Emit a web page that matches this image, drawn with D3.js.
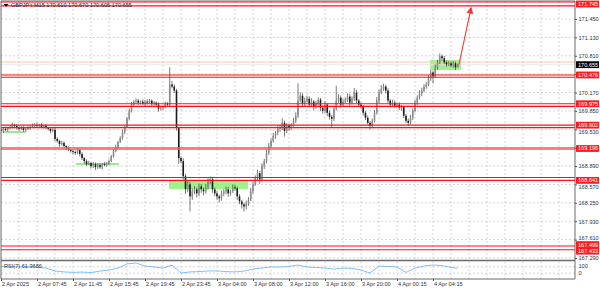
<!DOCTYPE html>
<html>
<head>
<meta charset="utf-8">
<script src="https://cdn.jsdelivr.net/npm/d3@7"></script>
<style>
  body { margin: 0; background: #fff; }
  svg text { font-family: 'Liberation Sans', Arial, sans-serif; font-size: 5.6px; }
</style>
</head>
<body>
<svg id="chart"></svg>
<script>
// ---- data ----
const symbol = 'GBPJPY,M15';
const firstOpen = 169.520;

// M15 closes, one per bar (open = previous close)
const closes = [
  169.502,169.537,169.520,169.555, 169.572,169.607,169.590,169.555,
  169.537,169.555,169.520,169.537, 169.555,169.572,169.590,169.607,
  169.590,169.607,169.572,169.590, 169.555,169.537,169.502,169.520,
  169.362,169.327,169.274,169.292, 169.239,169.204,169.169,169.151,
  169.134,169.116,169.169,169.099, 169.029,168.976,168.923,168.941,
  168.889,168.923,168.871,168.906, 168.871,168.923,168.906,168.941,
  168.976,169.064,169.151,169.222, 169.309,169.379,169.485,169.572,
  169.713,169.853,169.959,170.011, 170.029,169.994,170.011,169.976,
  170.011,169.994,170.029,169.976, 169.994,169.959,169.888,169.906,
  169.923,169.976,169.959,170.309, 170.274,170.204,169.555,169.029,
  168.976,168.713,168.485,168.573, 168.362,168.450,168.485,168.415,
  168.537,168.485,168.450,168.520, 168.625,168.660,168.485,168.415,
  168.362,168.327,168.415,168.450, 168.485,168.415,168.450,168.520,
  168.502,168.362,168.275,168.222, 168.187,168.239,168.309,168.450,
  168.573,168.678,168.765,168.660, 168.889,168.976,169.116,169.239,
  169.327,169.415,169.467,169.537, 169.555,169.643,169.502,169.590,
  169.555,169.607,169.678,169.766, 170.029,170.116,169.976,170.029,
  170.064,169.959,170.011,169.923, 169.976,170.046,169.906,169.853,
  169.959,169.818,169.748,169.713, 169.888,170.029,170.081,169.959,
  170.011,170.046,170.099,169.994, 170.064,170.169,170.029,169.959,
  169.923,169.818,169.730,169.643, 169.590,169.678,169.818,170.029,
  170.169,170.239,170.274,170.204, 170.029,169.959,169.994,169.941,
  169.959,169.906,169.923,169.766, 169.678,169.643,169.730,169.853,
  169.994,170.081,170.151,170.204, 170.274,170.309,170.415,170.520,
  170.450,170.608,170.695,170.801, 170.766,170.695,170.660,170.678,
  170.643,170.678,170.610,170.655
];

// wick lengths beyond the body, in pips (0.01)
const wickUp = [
  3,2,4,2, 3,4,2,3, 2,3,3,2, 3,2,4,3, 4,2,3,2, 3,2,2,3, 4,3,2,4, 3,2,3,2,
  2,3,4,2, 3,2,3,4, 2,4,3,3, 3,2,4,2, 3,2,3,4, 2,3,4,3, 3,4,5,3, 4,3,2,4,
  3,4,3,2, 3,2,4,3, 2,4,3,30, 6,4,3,2, 3,5,4,6, 4,5,6,3, 5,4,3,6, 6,5,4,3,
  4,3,5,4, 5,4,3,5, 4,3,4,3, 3,5,4,6, 4,5,6,4, 5,4,6,5, 4,5,3,6, 5,8,4,5,
  4,3,5,6, 30,6,4,5, 5,4,6,3, 5,4,3,4, 6,3,4,3, 5,26,6,4, 5,4,6,5, 4,8,5,3,
  4,3,3,4, 3,4,5,6, 5,6,5,3, 4,3,5,4, 3,4,3,2, 3,4,5,4, 5,4,6,5, 4,5,6,4,
  3,5,4,5, 3,4,3,4, 3,4,3,1.5
];
const wickDown = [
  3,4,2,3, 2,3,4,3, 3,2,3,4, 2,3,2,3, 3,4,2,3, 2,3,4,2, 4,3,5,3, 3,4,2,3,
  4,3,2,4, 3,4,3,2, 4,3,5,3, 3,4,2,3, 3,2,3,2, 3,2,3,4, 2,3,3,4, 3,4,3,2,
  4,3,2,4, 3,4,5,3, 4,3,2,3, 3,4,5,10, 4,6,8,5, 26,6,5,7, 5,6,7,4, 4,5,6,5,
  6,7,4,5, 5,6,4,3, 4,6,5,7, 9,5,4,3, 4,3,5,8, 4,5,4,3, 4,3,5,4, 5,4,10,4,
  5,4,3,4, 4,3,6,4, 3,5,4,6, 4,3,6,5, 4,6,5,16, 4,3,4,5, 4,3,4,5, 3,4,5,4,
  4,5,4,3, 6,4,3,3, 4,3,4,5, 4,5,3,4, 3,4,5,4, 4,6,3,4, 3,4,3,4, 3,4,3,4,
  12,3,4,3, 4,3,4,3, 3,4,5,0.5
];

// RSI(7), read every 4 bars, last value at the final bar
const rsiValues = [
  72,72,69,72,68,62,44,38,35,37, 34,43,50,62,88,94,75,69,62,81,
  31,38,40,44,44,40,38,43,56,62, 69,69,72,81,69,66,62,56,62,60,
  50,31,75,72,69,35,62,75,81,78,66, 61.3686
];
const rsiLevels = [70, 30];
const rsiAxisLabels = [100, 0];

// time labels, one every 16 bars
const timeLabels = [
  '2 Apr 2025','2 Apr 07:45','2 Apr 11:45','2 Apr 15:45','2 Apr 19:45','2 Apr 23:45',
  '3 Apr 04:00','3 Apr 08:00','3 Apr 12:00','3 Apr 16:00','3 Apr 20:00','4 Apr 00:15','4 Apr 04:15'
];
const priceTicks = [171.450,171.130,170.810,170.490,170.170,169.850,169.530,169.210,
                    168.890,168.570,168.250,167.930,167.610,167.290];

// support / resistance levels (pairs of lines), one wide band, and the tagged prices
const levelPairs = [[171.745,171.678],[170.476,170.435],[169.975,169.930],
                    [169.602,169.560],[168.690,168.641],[167.499,167.433]];
const bandLevels = [169.196];
const taggedLevels = [171.745,170.476,169.975,169.602,169.196,168.641,167.499,167.433];
const askPrice = 170.700;

// annotations in bar / price units
const greenZones = [[190.7,204.5,170.736,170.562],[74.7,109.8,168.630,168.490]];
const greenMarks = [[33.3,52.4,168.926],[1,10.7,169.483]];
const targetArrow = [203.5,170.650,208.9,171.640];

// ---- build ----
const W = 600, H = 289;
const svg = d3.select('#chart').attr('width', W).attr('height', H);
svg.append('rect').attr('width', W).attr('height', H).attr('fill', '#fff');

const bars = closes.map((c, i) => {
  const o = i === 0 ? firstOpen : closes[i - 1];
  return { i, o, c,
    h: Math.max(o, c) + wickUp[i] * 0.01,
    l: Math.min(o, c) - wickDown[i] * 0.01 };
});
const last = bars[bars.length - 1];

const x = d3.scaleLinear().domain([0, 255]).range([1, 574.75]);
const y = d3.scaleLinear().domain([167.29, 171.45]).range([258, 19]);
const rsiY = d3.scaleLinear().domain([0, 100]).range([278, 262]);

const plotL = 1, plotR = 575, mainT = 1, mainB = 259.5, rsiT = 261.5, rsiB = 279;

svg.append('clipPath').attr('id', 'mainClip')
  .append('rect').attr('x', plotL).attr('y', mainT).attr('width', plotR - plotL).attr('height', mainB - mainT);

const main = svg.append('g').attr('clip-path', 'url(#mainClip)');

// grid
const gridX = d3.range(0, 256, 8);
main.selectAll('.gx').data(gridX).join('line')
  .attr('x1', d => x(d)).attr('x2', d => x(d)).attr('y1', mainT).attr('y2', mainB)
  .attr('stroke', '#c9c9c9').attr('stroke-width', 0.8).attr('stroke-dasharray', '2,2');
main.selectAll('.gy').data(priceTicks).join('line')
  .attr('x1', plotL).attr('x2', plotR).attr('y1', d => y(d)).attr('y2', d => y(d))
  .attr('stroke', '#c9c9c9').attr('stroke-width', 0.8).attr('stroke-dasharray', '2,2');

// green zones
main.selectAll('.zone').data(greenZones).join('rect')
  .attr('x', d => x(d[0])).attr('width', d => x(d[1]) - x(d[0]))
  .attr('y', d => y(d[2])).attr('height', d => y(d[3]) - y(d[2]))
  .attr('fill', '#8ff07e').attr('opacity', 0.85);
main.selectAll('.gmark').data(greenMarks).join('line')
  .attr('x1', d => x(d[0])).attr('x2', d => x(d[1])).attr('y1', d => y(d[2])).attr('y2', d => y(d[2]))
  .attr('stroke', '#7fe06f').attr('stroke-width', 1.6);

// ask / bid lines
main.append('line').attr('x1', plotL).attr('x2', plotR).attr('y1', y(askPrice)).attr('y2', y(askPrice))
  .attr('stroke', '#ffc4a8').attr('stroke-width', 1);
main.append('line').attr('x1', plotL).attr('x2', plotR).attr('y1', y(last.c)).attr('y2', y(last.c))
  .attr('stroke', '#e2e2e2').attr('stroke-width', 0.8);

// candles
const cg = main.append('g');
cg.selectAll('.wick').data(bars).join('line')
  .attr('x1', d => x(d.i)).attr('x2', d => x(d.i))
  .attr('y1', d => y(d.h)).attr('y2', d => y(d.l))
  .attr('stroke', '#222').attr('stroke-width', 0.6);
cg.selectAll('.body').data(bars).join('rect')
  .attr('x', d => x(d.i) - 0.8).attr('width', 1.6)
  .attr('y', d => y(Math.max(d.o, d.c)))
  .attr('height', d => Math.max(0.6, Math.abs(y(d.o) - y(d.c))))
  .attr('fill', d => d.c >= d.o ? '#8c8c8c' : '#1c1c1c');

// levels
const allLevels = levelPairs.flat();
main.selectAll('.lvl').data(allLevels).join('line')
  .attr('x1', plotL).attr('x2', plotR).attr('y1', d => y(d)).attr('y2', d => y(d))
  .attr('stroke', '#ff1010').attr('stroke-width', 1.1);
main.selectAll('.band').data(bandLevels).join('line')
  .attr('x1', plotL).attr('x2', plotR).attr('y1', d => y(d)).attr('y2', d => y(d))
  .attr('stroke', '#f25a5a').attr('stroke-opacity', 0.75).attr('stroke-width', 3.2);

// arrow
const defs = svg.append('defs');
defs.append('marker').attr('id', 'ah').attr('viewBox', '0 0 10 10').attr('refX', 8).attr('refY', 5)
  .attr('markerWidth', 7).attr('markerHeight', 7).attr('markerUnits', 'userSpaceOnUse').attr('orient', 'auto')
  .append('path').attr('d', 'M0,0L10,5L0,10Z').attr('fill', '#f03a3a');
main.append('line')
  .attr('x1', x(targetArrow[0])).attr('y1', y(targetArrow[1]))
  .attr('x2', x(targetArrow[2])).attr('y2', y(targetArrow[3]))
  .attr('stroke', '#f03a3a').attr('stroke-width', 1.1).attr('marker-end', 'url(#ah)');

// RSI panel
const rsiBars = d3.range(0, 204, 4).concat([bars.length - 1]);
const rg = svg.append('g');
rg.selectAll('.rgx').data(gridX).join('line')
  .attr('x1', d => x(d)).attr('x2', d => x(d)).attr('y1', rsiT).attr('y2', rsiB)
  .attr('stroke', '#c9c9c9').attr('stroke-width', 0.8).attr('stroke-dasharray', '2,2');
rg.selectAll('.rgy').data(rsiLevels).join('line')
  .attr('x1', plotL).attr('x2', plotR).attr('y1', d => rsiY(d)).attr('y2', d => rsiY(d))
  .attr('stroke', '#c9c9c9').attr('stroke-width', 0.8).attr('stroke-dasharray', '2,2');
rg.append('path').datum(rsiValues)
  .attr('d', d3.line().x((d, k) => x(rsiBars[k])).y(d => rsiY(d)))
  .attr('fill', 'none').attr('stroke', '#64aef5').attr('stroke-width', 0.8);
rg.append('text').attr('x', 4).attr('y', 268).attr('fill', '#333')
  .text(`RSI(7) ${rsiValues[rsiValues.length - 1].toFixed(4)}`);

// frame
const frame = svg.append('g').attr('stroke', '#6a6a6a').attr('fill', 'none');
frame.append('line').attr('x1', plotL).attr('x2', plotL).attr('y1', mainT).attr('y2', rsiB);
frame.append('line').attr('x1', plotL).attr('x2', plotR).attr('y1', mainT).attr('y2', mainT);
frame.append('line').attr('x1', plotR).attr('x2', plotR).attr('y1', mainT).attr('y2', rsiB);
frame.append('line').attr('x1', plotL).attr('x2', plotR).attr('y1', 260.5).attr('y2', 260.5).attr('stroke-width', 1.6);
frame.append('line').attr('x1', plotL).attr('x2', plotR).attr('y1', rsiB).attr('y2', rsiB);

// tag positions: keep boxes inside the chart and nudge close ones apart
const tagH = 6.6;
const tagPos = taggedLevels.map(v => ({ v, ty: Math.max(4, y(v)) })).sort((a, b) => a.ty - b.ty);
for (let k = 1; k < tagPos.length; k++) {
  const gap = tagPos[k].ty - tagPos[k - 1].ty;
  if (gap < tagH) {
    const push = (tagH - gap) / 2;
    tagPos[k - 1].ty -= push;
    tagPos[k].ty += push;
  }
}
const tagYs = tagPos.map(d => d.ty).concat([y(last.c)]);

// price axis (labels hidden under a tag are dropped, near ones nudged)
const fmt = d3.format('.3f');
const yAxisG = svg.append('g').attr('transform', `translate(${plotR},0)`)
  .call(d3.axisRight(y).tickValues(priceTicks).tickFormat(fmt).tickSize(2).tickPadding(1.5));
yAxisG.select('.domain').remove();
yAxisG.selectAll('line').attr('stroke', '#555');
yAxisG.selectAll('text').attr('fill', '#333').style('font-size', '5.6px')
  .each(function (d) {
    const ty = y(d);
    const near = tagYs.reduce((m, t) => Math.abs(t - ty) < Math.abs(m - ty) ? t : m, -99);
    const dist = ty - near;
    if (Math.abs(dist) < 3) d3.select(this).remove();
    else if (Math.abs(dist) < tagH) d3.select(this).attr('y', Math.sign(dist) * (tagH - Math.abs(dist)));
  });

// RSI axis labels
svg.selectAll('.rl').data(rsiAxisLabels).join('text')
  .attr('x', plotR + 3.5).attr('y', d => d === 100 ? 267.5 : 274.5)
  .attr('fill', '#333').text(d => d);

// time axis
const xAxisG = svg.append('g').attr('transform', `translate(0,${rsiB})`)
  .call(d3.axisBottom(x).tickValues(timeLabels.map((_, k) => k * 16))
    .tickFormat((d, k) => timeLabels[k]).tickSize(2).tickPadding(1.5));
xAxisG.select('.domain').remove();
xAxisG.selectAll('line').attr('stroke', '#555');
xAxisG.selectAll('text').attr('text-anchor', 'start').attr('dx', '0.5').attr('fill', '#333')
  .style('font-size', '5.6px');

// level tags on the price axis
const tags = svg.append('g');
tags.selectAll('.tagbox').data(tagPos).join('rect')
  .attr('x', plotR + 1).attr('y', d => d.ty - 3.4).attr('width', 23).attr('height', 6.8)
  .attr('fill', '#ff1a1a');
tags.selectAll('.tagtxt').data(tagPos).join('text')
  .attr('x', plotR + 3).attr('y', d => d.ty + 2).attr('fill', '#fff').text(d => fmt(d.v));
tags.append('rect').attr('x', plotR + 1).attr('y', y(last.c) - 3.4).attr('width', 23).attr('height', 6.8)
  .attr('fill', '#000');
tags.append('text').attr('x', plotR + 3).attr('y', y(last.c) + 2).attr('fill', '#fff').text(fmt(last.c));

// header
svg.append('path').attr('d', 'M3.5,4L8.5,4L6,6.8Z').attr('fill', '#000');
svg.append('text').attr('x', 11).attr('y', 7).attr('fill', '#222')
  .text(`${symbol}  ${fmt(last.o)} ${fmt(last.h)} ${fmt(last.l)} ${fmt(last.c)}`);
</script>
</body>
</html>
